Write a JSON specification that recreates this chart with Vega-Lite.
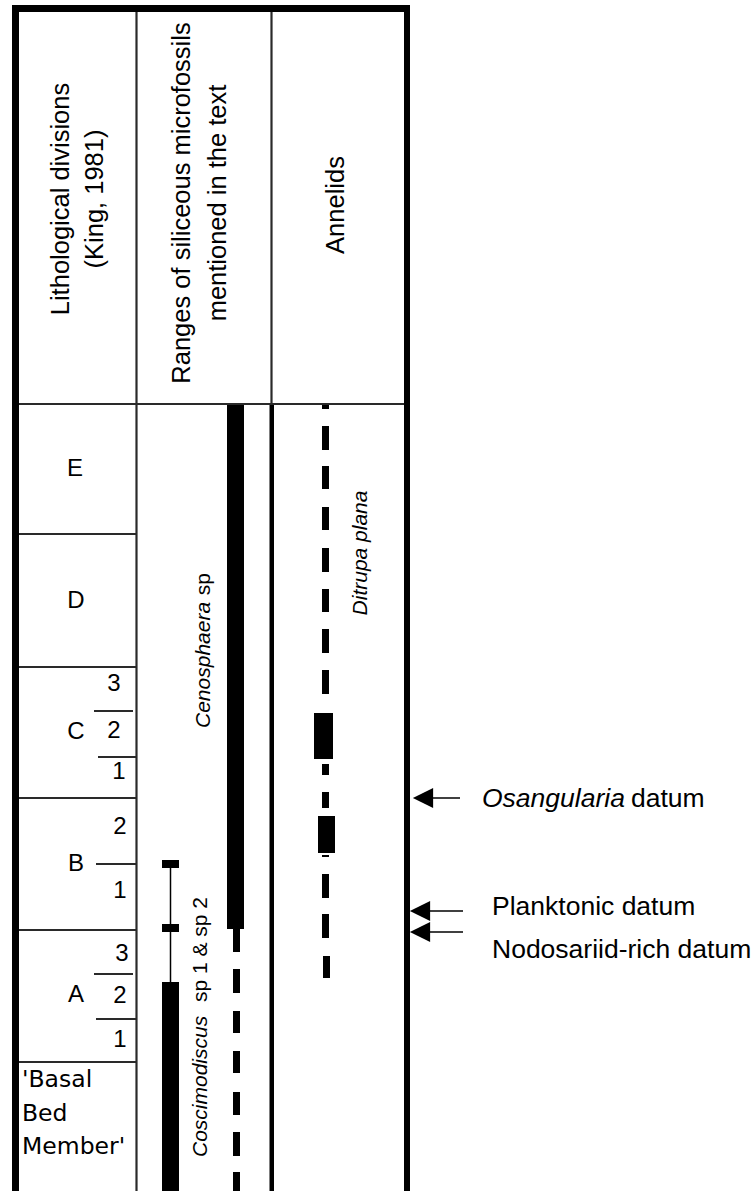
{
  "$schema": "https://vega.github.io/schema/vega-lite/v6.json",
  "width": 756,
  "height": 1193,
  "autosize": "none",
  "padding": 0,
  "background": "white",
  "view": {"stroke": null},
  "config": {"axis": {"disable": true}, "legend": {"disable": true}},
  "datasets": {
    "rects": [
      {"x1": 12, "x2": 19, "y1": 5, "y2": 1191},
      {"x1": 12, "x2": 410, "y1": 5, "y2": 12},
      {"x1": 404, "x2": 410, "y1": 5, "y2": 1191},
      {"x1": 269.5, "x2": 274, "y1": 404, "y2": 1191},
      {"x1": 227, "x2": 244, "y1": 404, "y2": 929},
      {"x1": 162, "x2": 179, "y1": 982, "y2": 1191},
      {"x1": 162, "x2": 179, "y1": 860, "y2": 868},
      {"x1": 162, "x2": 179, "y1": 924, "y2": 932},
      {"x1": 233, "x2": 240, "y1": 929, "y2": 952},
      {"x1": 233, "x2": 240, "y1": 969, "y2": 993},
      {"x1": 233, "x2": 240, "y1": 1011, "y2": 1033},
      {"x1": 233, "x2": 240, "y1": 1051, "y2": 1073},
      {"x1": 233, "x2": 240, "y1": 1092, "y2": 1115},
      {"x1": 233, "x2": 240, "y1": 1132, "y2": 1156},
      {"x1": 233, "x2": 240, "y1": 1172, "y2": 1191},
      {"x1": 322, "x2": 329, "y1": 405, "y2": 409},
      {"x1": 322, "x2": 329, "y1": 426, "y2": 450},
      {"x1": 322, "x2": 329, "y1": 466, "y2": 489},
      {"x1": 322, "x2": 329, "y1": 507, "y2": 530},
      {"x1": 322, "x2": 329, "y1": 548, "y2": 572},
      {"x1": 322, "x2": 329, "y1": 589, "y2": 612},
      {"x1": 322, "x2": 329, "y1": 629, "y2": 653},
      {"x1": 322, "x2": 329, "y1": 670, "y2": 694},
      {"x1": 314, "x2": 333, "y1": 713, "y2": 759},
      {"x1": 322, "x2": 329, "y1": 764, "y2": 775},
      {"x1": 322, "x2": 329, "y1": 792, "y2": 808},
      {"x1": 318, "x2": 335, "y1": 816, "y2": 853},
      {"x1": 322, "x2": 329, "y1": 855, "y2": 857},
      {"x1": 322, "x2": 329, "y1": 874, "y2": 898},
      {"x1": 322, "x2": 329, "y1": 914, "y2": 938},
      {"x1": 323, "x2": 330, "y1": 956, "y2": 978}
    ],
    "gridlines": [
      {"x1": 136.5, "x2": 136.5, "y1": 12, "y2": 1191},
      {"x1": 271.5, "x2": 271.5, "y1": 12, "y2": 404},
      {"x1": 19, "x2": 404, "y1": 404, "y2": 404},
      {"x1": 19, "x2": 137, "y1": 534, "y2": 534},
      {"x1": 19, "x2": 137, "y1": 667, "y2": 667},
      {"x1": 19, "x2": 137, "y1": 798, "y2": 798},
      {"x1": 19, "x2": 137, "y1": 930, "y2": 930},
      {"x1": 19, "x2": 137, "y1": 1062, "y2": 1062},
      {"x1": 94, "x2": 133, "y1": 711, "y2": 711},
      {"x1": 98, "x2": 137, "y1": 757, "y2": 757},
      {"x1": 96, "x2": 137, "y1": 864, "y2": 864},
      {"x1": 94, "x2": 133, "y1": 974, "y2": 974},
      {"x1": 96, "x2": 137, "y1": 1019, "y2": 1019}
    ],
    "finelines": [
      {"x1": 170.5, "x2": 170.5, "y1": 868, "y2": 982},
      {"x1": 432, "x2": 460, "y1": 798, "y2": 798},
      {"x1": 429, "x2": 463, "y1": 911, "y2": 911},
      {"x1": 429, "x2": 463, "y1": 932, "y2": 932}
    ],
    "heads": [
      {"x": 423, "y": 798},
      {"x": 420, "y": 911},
      {"x": 420, "y": 932}
    ],
    "headers": [
      {"t": "Lithological divisions", "x": 61, "y": 199},
      {"t": "(King, 1981)", "x": 95, "y": 199},
      {"t": "Ranges of siliceous microfossils", "x": 182, "y": 203},
      {"t": "mentioned in the text", "x": 218, "y": 203},
      {"t": "Annelids", "x": 336, "y": 205}
    ],
    "lith": [
      {"t": "E", "x": 75, "y": 469},
      {"t": "D", "x": 76, "y": 601},
      {"t": "C", "x": 76, "y": 732},
      {"t": "B", "x": 76, "y": 864},
      {"t": "A", "x": 76, "y": 995},
      {"t": "3", "x": 114, "y": 684},
      {"t": "2", "x": 114, "y": 731},
      {"t": "1", "x": 119, "y": 772},
      {"t": "2", "x": 120, "y": 827},
      {"t": "1", "x": 120, "y": 891},
      {"t": "3", "x": 122, "y": 954},
      {"t": "2", "x": 120, "y": 996},
      {"t": "1", "x": 120, "y": 1040}
    ],
    "basal": [
      {"t": "'Basal", "x": 22, "y": 1080},
      {"t": "Bed", "x": 22, "y": 1114},
      {"t": "Member'", "x": 22, "y": 1147}
    ],
    "spItalicStart": [
      {"t": "Cenosphaera", "x": 204, "y": 728},
      {"t": "Coscimodiscus", "x": 201, "y": 1157}
    ],
    "spRomanEnd": [
      {"t": "sp", "x": 204, "y": 573},
      {"t": "sp 1 & sp 2", "x": 201, "y": 897}
    ],
    "spItalicCenter": [
      {"t": "Ditrupa plana", "x": 361, "y": 553}
    ],
    "datumItalic": [
      {"t": "Osangularia", "x": 482, "y": 799}
    ],
    "datumRoman": [
      {"t": "datum", "x": 631, "y": 799},
      {"t": "Planktonic datum", "x": 492, "y": 907},
      {"t": "Nodosariid-rich datum", "x": 492, "y": 950}
    ]
  },
  "encoding": {
    "x": {"field": "x", "type": "quantitative", "scale": {"domain": [0, 756], "nice": false, "zero": false}},
    "y": {"field": "y", "type": "quantitative", "scale": {"domain": [0, 1193], "nice": false, "zero": false, "reverse": true}}
  },
  "layer": [
    {
      "data": {"name": "rects"},
      "mark": {"type": "rect", "color": "black"},
      "encoding": {
        "x": {"field": "x1", "type": "quantitative"},
        "x2": {"field": "x2"},
        "y": {"field": "y1", "type": "quantitative"},
        "y2": {"field": "y2"}
      }
    },
    {
      "data": {"name": "gridlines"},
      "mark": {"type": "rule", "color": "#2a2a2a", "strokeWidth": 2.2},
      "encoding": {
        "x": {"field": "x1", "type": "quantitative"},
        "x2": {"field": "x2"},
        "y": {"field": "y1", "type": "quantitative"},
        "y2": {"field": "y2"}
      }
    },
    {
      "data": {"name": "finelines"},
      "mark": {"type": "rule", "color": "black", "strokeWidth": 1.5},
      "encoding": {
        "x": {"field": "x1", "type": "quantitative"},
        "x2": {"field": "x2"},
        "y": {"field": "y1", "type": "quantitative"},
        "y2": {"field": "y2"}
      }
    },
    {
      "data": {"name": "heads"},
      "mark": {"type": "point", "shape": "M -1 0 L 1 -1 L 1 1 Z", "filled": true, "color": "black", "opacity": 1, "size": 410}
    },
    {
      "data": {"name": "headers"},
      "mark": {"type": "text", "angle": 270, "align": "center", "baseline": "middle", "font": "Liberation Sans", "fontSize": 25.5, "color": "black"},
      "encoding": {"text": {"field": "t"}}
    },
    {
      "data": {"name": "lith"},
      "mark": {"type": "text", "align": "center", "baseline": "middle", "font": "Liberation Sans", "fontSize": 24, "color": "black"},
      "encoding": {"text": {"field": "t"}}
    },
    {
      "data": {"name": "basal"},
      "mark": {"type": "text", "align": "left", "baseline": "middle", "font": "DejaVu Sans", "fontSize": 23.5, "color": "black"},
      "encoding": {"text": {"field": "t"}}
    },
    {
      "data": {"name": "spItalicStart"},
      "mark": {"type": "text", "angle": 270, "align": "left", "baseline": "middle", "font": "Liberation Sans", "fontStyle": "italic", "fontSize": 21, "color": "black"},
      "encoding": {"text": {"field": "t"}}
    },
    {
      "data": {"name": "spRomanEnd"},
      "mark": {"type": "text", "angle": 270, "align": "right", "baseline": "middle", "font": "Liberation Sans", "fontSize": 21, "color": "black"},
      "encoding": {"text": {"field": "t"}}
    },
    {
      "data": {"name": "spItalicCenter"},
      "mark": {"type": "text", "angle": 270, "align": "center", "baseline": "middle", "font": "Liberation Sans", "fontStyle": "italic", "fontSize": 21, "color": "black"},
      "encoding": {"text": {"field": "t"}}
    },
    {
      "data": {"name": "datumItalic"},
      "mark": {"type": "text", "align": "left", "baseline": "middle", "font": "Liberation Sans", "fontStyle": "italic", "fontSize": 26.5, "color": "black"},
      "encoding": {"text": {"field": "t"}}
    },
    {
      "data": {"name": "datumRoman"},
      "mark": {"type": "text", "align": "left", "baseline": "middle", "font": "Liberation Sans", "fontSize": 26.5, "color": "black"},
      "encoding": {"text": {"field": "t"}}
    }
  ]
}
